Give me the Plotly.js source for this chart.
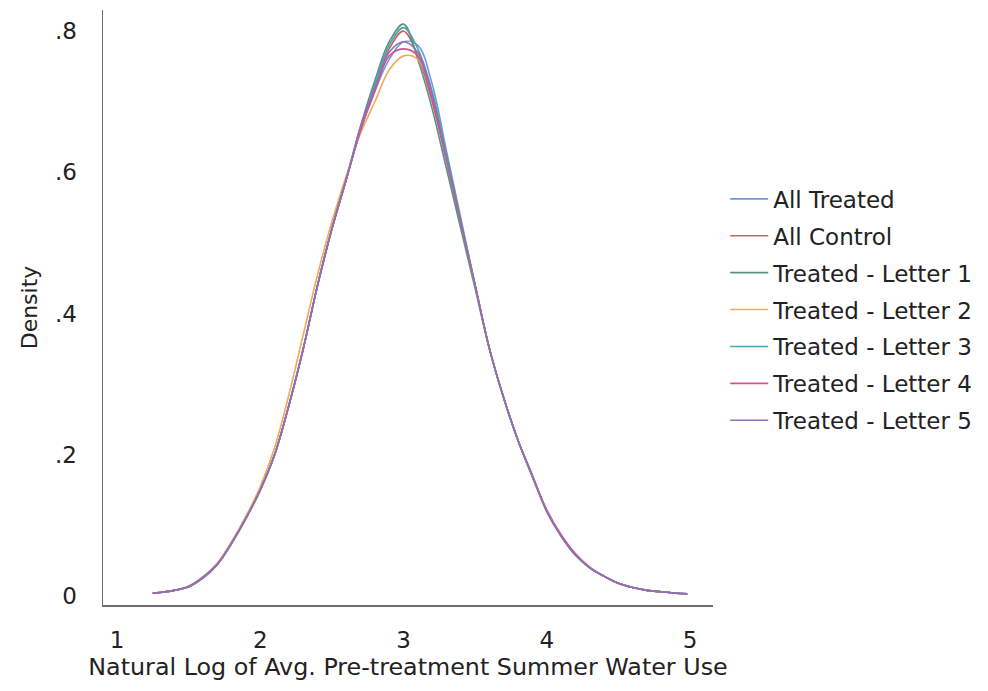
<!DOCTYPE html>
<html>
<head>
<meta charset="utf-8">
<script src="https://cdn.plot.ly/plotly-3.0.1.min.js"></script>
<style>
  html, body { margin: 0; padding: 0; background: #ffffff; }
  #chart { width: 988px; height: 691px; }
</style>
</head>
<body>
<div id="chart"></div>
<script>
// x grid (natural log of avg. pre-treatment summer water use)
const xGrid = [1.25,1.3,1.4,1.5,1.6,1.7,1.8,1.9,2.0,2.1,2.2,2.3,2.4,2.5,2.6,2.7,2.8,2.9,3.0,3.1,3.2,3.3,3.4,3.5,3.6,3.7,3.8,3.9,4.0,4.1,4.2,4.3,4.4,4.5,4.6,4.7,4.8,4.9,4.98];

const seriesNames = ["All Treated","All Control","Treated - Letter 1","Treated - Letter 2","Treated - Letter 3","Treated - Letter 4","Treated - Letter 5"];

const allTreated = [.004,.005,.008,.013,.025,.044,.074,.11,.15,.20,.27,.35,.44,.52,.59,.66,.715,.76,.785,.78,.725,.63,.535,.44,.35,.28,.22,.17,.12,.085,.058,.040,.028,.018,.012,.008,.006,.004,.003];
const allControl = [.004,.005,.008,.014,.027,.046,.076,.112,.152,.20,.27,.35,.44,.52,.59,.66,.72,.775,.80,.765,.70,.615,.525,.44,.35,.28,.22,.168,.12,.086,.059,.040,.028,.018,.012,.008,.006,.004,.003];
const letter1 = [.004,.005,.008,.013,.026,.045,.075,.11,.15,.20,.27,.35,.44,.52,.59,.665,.73,.785,.81,.76,.69,.605,.52,.435,.35,.28,.22,.17,.12,.085,.058,.040,.028,.018,.012,.008,.006,.004,.003];
const letter2 = [.004,.005,.008,.013,.026,.046,.077,.113,.155,.21,.285,.37,.455,.53,.595,.655,.70,.745,.765,.76,.71,.62,.53,.44,.35,.28,.22,.17,.12,.085,.058,.040,.028,.018,.012,.008,.006,.004,.003];
const letter3 = [.004,.005,.008,.013,.026,.045,.075,.11,.15,.20,.27,.35,.44,.52,.59,.66,.725,.78,.805,.775,.715,.625,.53,.44,.35,.28,.22,.17,.12,.085,.058,.040,.028,.018,.012,.008,.006,.004,.003];
const letter4 = [.004,.005,.008,.013,.026,.045,.075,.11,.15,.20,.27,.35,.44,.52,.59,.66,.715,.765,.775,.765,.705,.62,.53,.44,.35,.28,.22,.17,.122,.087,.06,.041,.028,.018,.012,.008,.006,.004,.003];
const letter5 = [.004,.005,.008,.013,.026,.045,.075,.11,.15,.20,.27,.35,.44,.52,.59,.665,.72,.77,.785,.77,.71,.62,.53,.44,.35,.28,.22,.17,.12,.085,.058,.040,.028,.018,.012,.008,.006,.004,.003];

const seriesValues = [allTreated, allControl, letter1, letter2, letter3, letter4, letter5];
const seriesColors = ["#6a9ad8","#d65a66","#5a9282","#efab5a","#4aa6ae","#d6508a","#8c72b8"];

const xTickVals = [1,2,3,4,5];
const xTickText = ["1","2","3","4","5"];
const yTickVals = [0,0.2,0.4,0.6,0.8];
const yTickText = ["0",".2",".4",".6",".8"];

const FONT = "DejaVu Sans, Liberation Sans, Arial, sans-serif";

const traces = seriesNames.map((name, i) => ({
  type: "scatter",
  mode: "lines",
  name: name,
  legendgroup: name,
  x: xGrid,
  y: seriesValues[i],
  line: { color: seriesColors[i], width: 1.6, shape: "spline", smoothing: 1 },
  hoverinfo: "x+y+name"
}));

const layout = {
  width: 988,
  height: 691,
  paper_bgcolor: "#ffffff",
  plot_bgcolor: "#ffffff",
  margin: { l: 103, r: 273, t: 10, b: 86 },
  font: { family: FONT, size: 22, color: "#222222" },
  showlegend: true,
  legend: {
    x: 1.02, xanchor: "left",
    y: 0.496, yanchor: "middle",
    font: { family: FONT, size: 23, color: "#222222" },
    traceorder: "grouped",
    tracegroupgap: 4,
    itemwidth: 38,
    bgcolor: "rgba(0,0,0,0)"
  },
  xaxis: {
    range: [0.9026, 5.16],
    tickvals: xTickVals,
    ticktext: xTickText,
    showgrid: false,
    zeroline: false,
    showline: true,
    linecolor: "#6e6e6e",
    linewidth: 1.5,
    ticks: "",
    ticklabelstandoff: 14,
    tickfont: { family: FONT, size: 23, color: "#222222" },
    title: { text: "Natural Log of Avg. Pre-treatment Summer Water Use", font: { family: FONT, size: 23.8, color: "#222222" }, standoff: 0 }
  },
  yaxis: {
    range: [-0.0127, 0.830],
    tickvals: yTickVals,
    ticktext: yTickText,
    showgrid: false,
    zeroline: false,
    showline: true,
    linecolor: "#6e6e6e",
    linewidth: 1.5,
    ticks: "",
    ticklabelstandoff: 20,
    tickfont: { family: FONT, size: 23, color: "#222222" },
    title: { text: "Density", font: { family: FONT, size: 22, color: "#222222" }, standoff: 11 }
  }
};

Plotly.newPlot("chart", traces, layout, { displayModeBar: false, staticPlot: true });
</script>
</body>
</html>
